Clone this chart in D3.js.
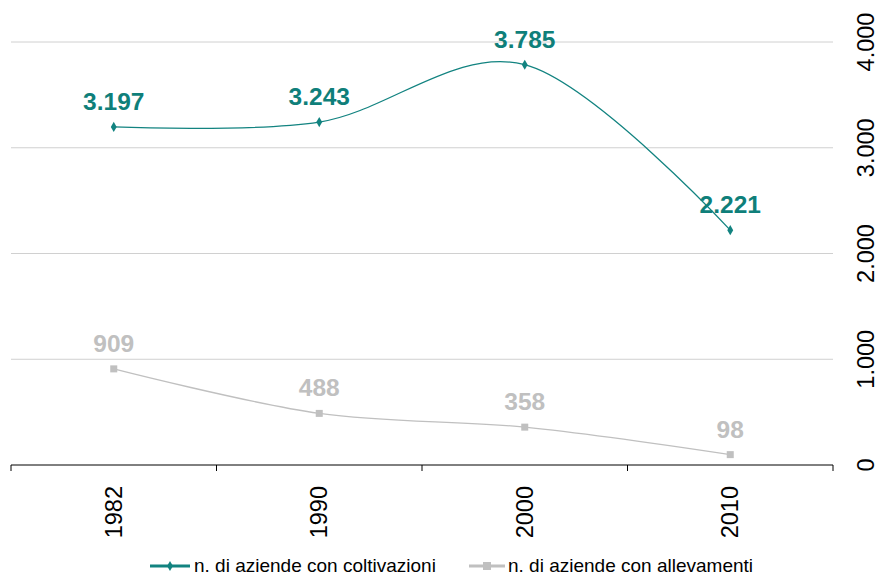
<!DOCTYPE html>
<html><head><meta charset="utf-8">
<script src="https://cdn.jsdelivr.net/npm/d3@7"></script>
<style>body{margin:0;background:#fff;font-family:"Liberation Sans",Arial,sans-serif}</style>
</head><body><svg id="c" width="878" height="576"></svg>
<script>
const categories = ["1982","1990","2000","2010"];
const coltivazioni = [3197, 3243, 3785, 2221];
const allevamenti = [909, 488, 358, 98];
const yTicks = [0, 1000, 2000, 3000, 4000];
const seriesNames = ["n. di aziende con coltivazioni", "n. di aziende con allevamenti"];

const teal = "#128380", tealText = "#0F7F7A", gray = "#C0C0C0";
const svg = d3.select("#c");
const x = d3.scaleBand().domain(categories).range([11, 833]);
const y = d3.scaleLinear().domain([0, 4000]).range([465, 42]);
const fmt = v => d3.format(",")(v).replace(/,/g, ".");

// gridlines
svg.append("g").selectAll("line").data(yTicks.filter(d => d > 0)).join("line")
  .attr("x1", 11).attr("x2", 833).attr("y1", d => y(d)).attr("y2", d => y(d))
  .attr("stroke", "#D0D0D0").attr("stroke-width", 1);

// x axis
const xa = svg.append("g").attr("transform", "translate(0,465)");
xa.append("line").attr("x1", 11).attr("x2", 833).attr("stroke", "#000");
const bounds = categories.map(c => x(c)).concat([x.range()[1]]);
xa.selectAll("line.t").data(bounds).join("line").attr("class","t")
  .attr("x1", d => d).attr("x2", d => d).attr("y1", 0).attr("y2", 6).attr("stroke", "#000");
xa.selectAll("text").data(categories).join("text")
  .attr("transform", d => `translate(${x(d) + x.bandwidth()/2 + 8},21) rotate(-90)`)
  .attr("text-anchor", "end").attr("font-size", 23.5).attr("fill", "#000").text(d => d);

// y axis labels on right
svg.append("g").selectAll("text").data(yTicks).join("text")
  .attr("transform", d => `translate(874,${y(d)}) rotate(-90)`)
  .attr("text-anchor", "middle").attr("font-size", 23.5).attr("fill", "#000").text(fmt);

const cx = d => x(d) + x.bandwidth()/2;
const line = d3.line().x((d,i) => cx(categories[i])).y(d => y(d)).curve(d3.curveCardinal.tension(0));

svg.append("path").datum(allevamenti).attr("d", line).attr("fill","none").attr("stroke", gray).attr("stroke-width", 1.3);
svg.append("path").datum(coltivazioni).attr("d", line).attr("fill","none").attr("stroke", teal).attr("stroke-width", 1.3);

// markers
svg.append("g").selectAll("rect").data(allevamenti).join("rect")
  .attr("x", (d,i) => cx(categories[i]) - 3.5).attr("y", d => y(d) - 3.5)
  .attr("width", 7).attr("height", 7).attr("fill", gray);
const diamond = d3.symbol().type(d3.symbolDiamond).size(30);
svg.append("g").selectAll("path").data(coltivazioni).join("path")
  .attr("transform", (d,i) => `translate(${cx(categories[i])},${y(d)})`).attr("d", diamond).attr("fill", teal);

// data labels
svg.append("g").selectAll("text").data(coltivazioni).join("text")
  .attr("x", (d,i) => cx(categories[i])).attr("y", d => y(d) - 17)
  .attr("text-anchor", "middle").attr("font-size", 24.5).attr("font-weight", "bold").attr("fill", tealText).text(fmt);
svg.append("g").selectAll("text").data(allevamenti).join("text")
  .attr("x", (d,i) => cx(categories[i])).attr("y", d => y(d) - 17)
  .attr("text-anchor", "middle").attr("font-size", 24.5).attr("font-weight", "bold").attr("fill", gray).text(fmt);

// legend
const lg = svg.append("g").attr("font-size", 19).attr("fill", "#000");
const l1 = lg.append("g").attr("transform", "translate(150,566)");
l1.append("line").attr("x1", 0).attr("x2", 40).attr("stroke", teal).attr("stroke-width", 3);
l1.append("path").attr("transform", "translate(20,0)").attr("d", diamond).attr("fill", teal);
l1.append("text").attr("x", 44).attr("y", 6).text(seriesNames[0]);
const l2 = lg.append("g").attr("transform", "translate(469,566)");
l2.append("line").attr("x1", 0).attr("x2", 36).attr("stroke", gray).attr("stroke-width", 3);
l2.append("rect").attr("x", 14).attr("y", -4).attr("width", 8).attr("height", 8).attr("fill", gray);
l2.append("text").attr("x", 39).attr("y", 6).text(seriesNames[1]);
</script></body></html>
